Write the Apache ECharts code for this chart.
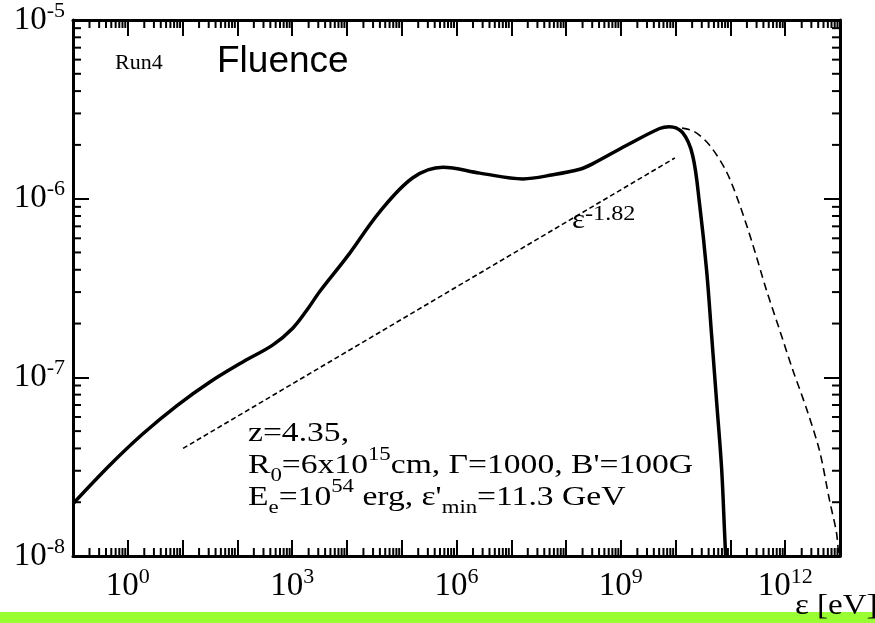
<!DOCTYPE html>
<html>
<head>
<meta charset="utf-8">
<script src="https://cdn.jsdelivr.net/npm/echarts@6/dist/echarts.min.js"></script>
<style>
  html, body { margin: 0; padding: 0; background: #fff; }
  #chart { width: 875px; height: 623px; }
</style>
</head>
<body>
<div id="chart"></div>
<script>
// ---- data ----
const energySolid = [0.1, 0.473, 1.89, 7.91, 31.6, 126, 447, 1035, 1862, 3214, 1e4, 4.0e4, 1.6e5, 5.65e5, 2.67e6, 1.63e7, 5.74e7, 1.78e8, 3.09e8, 1.28e9, 5.1e9, 7.6e9, 1.34e10, 2.04e10, 2.74e10, 3.68e10, 4.54e10, 5.6e10, 6.9e10, 7.83e10, 8.17e10];
const fluenceSolid = [1.96e-8, 3.23e-8, 4.83e-8, 6.95e-8, 9.42e-8, 1.22e-7, 1.52e-7, 1.89e-7, 2.38e-7, 3.03e-7, 4.72e-7, 8.47e-7, 1.31e-6, 1.50e-6, 1.39e-6, 1.29e-6, 1.36e-6, 1.46e-6, 1.57e-6, 1.99e-6, 2.47e-6, 2.53e-6, 2.34e-6, 1.75e-6, 9.27e-7, 3.95e-7, 1.71e-7, 7.28e-8, 3.1e-8, 1.34e-8, 1.0e-8];

const energyDashed = [7.6e9, 2.04e10, 4.17e10, 8.51e10, 1.47e11, 2.54e11, 4.57e11, 7.91e11, 1.36e12, 2.46e12, 4.25e12, 6.46e12, 8.67e12, 9.44e12];
const fluenceDashed = [2.53e-6, 2.40e-6, 1.99e-6, 1.41e-6, 9.27e-7, 5.57e-7, 3.06e-7, 1.84e-7, 1.11e-7, 6.65e-8, 3.86e-8, 2.04e-8, 1.34e-8, 1.0e-8];

const energyPowerLaw = [10.2, 9.66e9];
const fluencePowerLaw = [4.0e-8, 1.69e-6];

const xMin = 0.1, xMax = 1e13;
const yMin = 1e-8, yMax = 1e-5;
const xLabelExponents = [0, 3, 6, 9, 12];
const yLabelExponents = [-8, -7, -6, -5];

// minor tick positions (2..9 x 10^k)
const xMinorTicks = [];
for (let k = -1; k <= 12; k++) for (let m = 2; m <= 9; m++) xMinorTicks.push(m * Math.pow(10, k));
const yMinorTicks = [];
for (let k = -8; k <= -6; k++) for (let m = 2; m <= 9; m++) yMinorTicks.push(m * Math.pow(10, k));

const zip = (a, b) => a.map((v, i) => [v, b[i]]);
const expOf = v => Math.round(Math.log10(v));

const SERIF = "'Liberation Serif', 'Times New Roman', serif";
const SANS = "'Liberation Sans', Arial, sans-serif";

const tickRich = {
  b: { fontFamily: SERIF, fontSize: 33, lineHeight: 40, color: '#000' },
  s: { fontFamily: SERIF, fontSize: 22, lineHeight: 18, verticalAlign: 'top', color: '#000' }
};

function axisBase(extra) {
  return Object.assign({
    type: 'log', logBase: 10, interval: 1,
    axisLine: { show: true, lineStyle: { color: '#000', width: 3 } },
    axisTick: { show: true, inside: true, length: 16, lineStyle: { color: '#000', width: 2 } },
    splitLine: { show: false },
    minorTick: { show: false },
    minorSplitLine: { show: false }
  }, extra);
}

const chart = echarts.init(document.getElementById('chart'), null, { renderer: 'canvas' });

const annotRich = {
  t: { fontFamily: SERIF, fontSize: 28, lineHeight: 40, fill: '#000' },
  u: { fontFamily: SERIF, fontSize: 19, lineHeight: 27, verticalAlign: 'top', fill: '#000' },
  d: { fontFamily: SERIF, fontSize: 19, lineHeight: 11, verticalAlign: 'bottom', fill: '#000' }
};

const option = {
  animation: false,
  backgroundColor: '#fff',
  grid: { left: 73, top: 13, width: 767, height: 543, containLabel: false },
  xAxis: [
    axisBase({
      position: 'bottom', min: xMin, max: xMax,
      axisLabel: {
        show: true, margin: 10, rich: tickRich,
        formatter: v => { const e = expOf(v); return xLabelExponents.includes(e) ? '{b|10}{s|' + e + '}' : ''; }
      }
    }),
    axisBase({ position: 'top', min: xMin, max: xMax, axisLabel: { show: false } })
  ],
  yAxis: [
    axisBase({
      position: 'left', min: yMin, max: yMax,
      axisLabel: {
        show: true, margin: 8, rich: tickRich,
        formatter: v => { const e = expOf(v); return yLabelExponents.includes(e) ? '{b|10}{s|' + e + '}' : ''; }
      }
    }),
    axisBase({ position: 'right', min: yMin, max: yMax, axisLabel: { show: false } })
  ],
  series: [
    {
      type: 'line', xAxisIndex: 0, yAxisIndex: 0,
      data: zip(energySolid, fluenceSolid),
      showSymbol: false, smooth: 0.35, clip: true,
      lineStyle: { color: '#000', width: 3.5 }, z: 5
    },
    {
      type: 'line', xAxisIndex: 0, yAxisIndex: 0,
      data: zip(energyDashed, fluenceDashed),
      showSymbol: false, smooth: 0.3, clip: true,
      lineStyle: { color: '#000', width: 1.6, type: [8, 5] }, z: 4
    },
    {
      type: 'line', xAxisIndex: 0, yAxisIndex: 0,
      data: zip(energyPowerLaw, fluencePowerLaw),
      showSymbol: false,
      lineStyle: { color: '#000', width: 1.6, type: [5, 3] }, z: 4
    },
    {
      type: 'custom', xAxisIndex: 0, yAxisIndex: 0, clip: false, silent: true, z: 6,
      data: xMinorTicks.map(v => [v, yMin]),
      renderItem: (params, api) => {
        const v = api.value(0);
        const pb = api.coord([v, yMin]);
        const pt = api.coord([v, yMax]);
        const st = { stroke: '#000', lineWidth: 2 };
        return { type: 'group', children: [
          { type: 'line', shape: { x1: pb[0], y1: pb[1], x2: pb[0], y2: pb[1] - 8 }, style: st },
          { type: 'line', shape: { x1: pt[0], y1: pt[1], x2: pt[0], y2: pt[1] + 8 }, style: st }
        ] };
      }
    },
    {
      type: 'custom', xAxisIndex: 0, yAxisIndex: 0, clip: false, silent: true, z: 6,
      data: yMinorTicks.map(v => [xMin, v]),
      renderItem: (params, api) => {
        const v = api.value(1);
        const pl = api.coord([xMin, v]);
        const pr = api.coord([xMax, v]);
        const st = { stroke: '#000', lineWidth: 2 };
        return { type: 'group', children: [
          { type: 'line', shape: { x1: pl[0], y1: pl[1], x2: pl[0] + 8, y2: pl[1] }, style: st },
          { type: 'line', shape: { x1: pr[0], y1: pr[1], x2: pr[0] - 8, y2: pr[1] }, style: st }
        ] };
      }
    }
  ],
  graphic: [
    { type: 'rect', left: 0, top: 612, z: 1, shape: { width: 875, height: 11 }, style: { fill: '#99ff33' } },
    { type: 'text', x: 115, y: 63, z: 10,
      style: { text: 'Run4', font: '22px ' + SERIF, fill: '#000', verticalAlign: 'middle' } },
    { type: 'text', x: 217, y: 62, z: 10,
      style: { text: 'Fluence', font: '37px ' + SANS, fill: '#000', verticalAlign: 'middle' } },
    { type: 'text', x: 572, y: 221, z: 10, scaleX: 1.15, originX: 0, originY: 0,
      style: {
        text: '{t|ε}{s|-1.82}', verticalAlign: 'middle',
        rich: {
          t: { fontFamily: SERIF, fontSize: 27, lineHeight: 34, fill: '#000' },
          s: { fontFamily: SERIF, fontSize: 21, lineHeight: 26, verticalAlign: 'top', fill: '#000' }
        }
      } },
    { type: 'text', x: 248, y: 434, z: 10, scaleX: 1.2, originX: 0, originY: 0,
      style: { text: '{t|z=4.35,}', verticalAlign: 'middle', rich: annotRich } },
    { type: 'text', x: 248, y: 466, z: 10, scaleX: 1.2, originX: 0, originY: 0,
      style: { text: '{t|R}{d|0}{t|=6x10}{u|15}{t|cm, Γ=1000, B\'=100G}', verticalAlign: 'middle', rich: annotRich } },
    { type: 'text', x: 248, y: 498, z: 10, scaleX: 1.2, originX: 0, originY: 0,
      style: { text: '{t|E}{d|e}{t|=10}{u|54}{t| erg, ε\'}{d|min}{t|=11.3 GeV}', verticalAlign: 'middle', rich: annotRich } },
    { type: 'text', x: 795, y: 606, z: 10, scaleX: 1.1, originX: 0, originY: 0,
      style: { text: 'ε [eV]', font: '30px ' + SERIF, fill: '#000', verticalAlign: 'middle' } }
  ]
};

chart.setOption(option);
</script>
</body>
</html>
